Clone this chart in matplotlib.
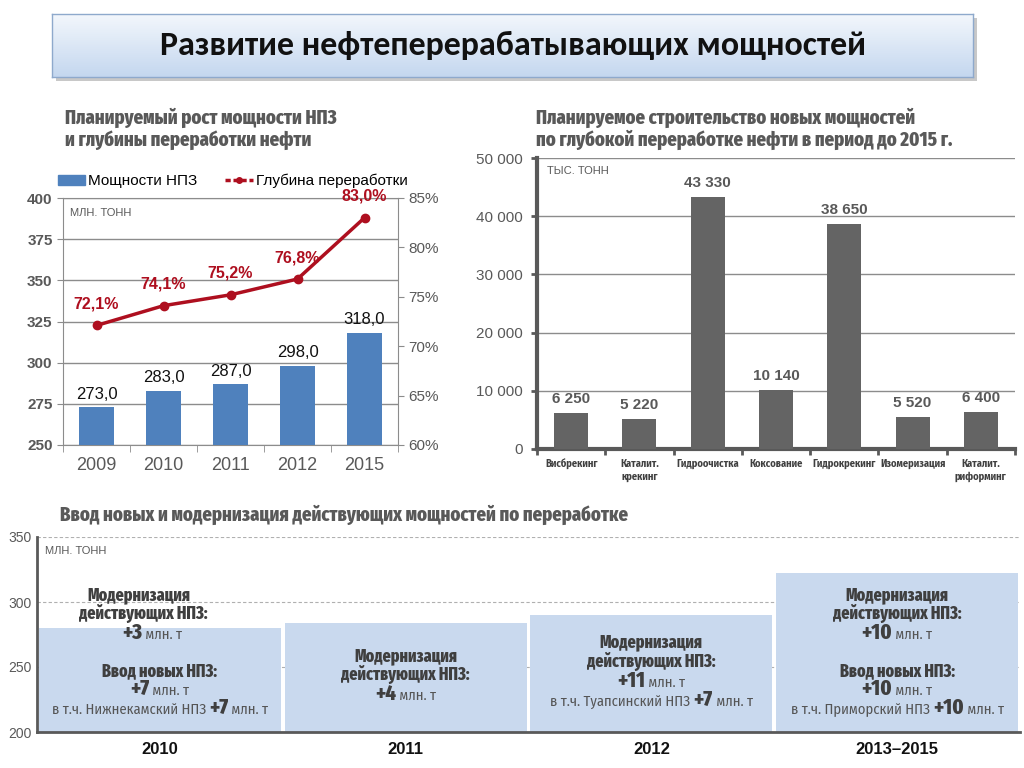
import matplotlib
matplotlib.use('Agg')
import matplotlib.pyplot as plt
import numpy as np
from matplotlib.patches import Rectangle, Patch
from matplotlib.lines import Line2D
from matplotlib.colors import LinearSegmentedColormap
import matplotlib.transforms as mtransforms

# ---------------- data ----------------
years1 = ['2009', '2010', '2011', '2012', '2015']
capacity = [273.0, 283.0, 287.0, 298.0, 318.0]
depth = [72.1, 74.1, 75.2, 76.8, 83.0]

processes = ['Висбрекинг', 'Каталит.\nкрекинг', 'Гидроочистка', 'Коксование',
             'Гидрокрекинг', 'Изомеризация', 'Каталит.\nриформинг']
new_capacity = [6250, 5220, 43330, 10140, 38650, 5520, 6400]

periods = ['2010', '2011', '2012', '2013–2015']
period_level = [280, 284, 290, 322]

HEAD = ['Fira Sans Extra Condensed', 'DejaVu Sans']
COND = ['Fira Sans Condensed', 'DejaVu Sans']
SANS = ['Liberation Sans', 'DejaVu Sans']
TITLE = ['Carlito', 'Liberation Sans', 'DejaVu Sans']
plt.rcParams['font.family'] = SANS

W, H = 1024, 768
fig = plt.figure(figsize=(10.24, 7.68), dpi=100)


def box(x0, y0, x1, y1):
    return [x0 / W, 1 - y1 / H, (x1 - x0) / W, (y1 - y0) / H]


# ---------------- title box ----------------
shadow = Rectangle((56 / W, 1 - 81 / H), 921 / W, 63 / H, transform=fig.transFigure,
                   facecolor='#C8C8C8', edgecolor='none', zorder=-1)
fig.patches.append(shadow)
axT = fig.add_axes(box(52, 14, 973, 77))
cmap = LinearSegmentedColormap.from_list('g', ['#F3F7FC', '#C4D7EF'])
axT.imshow(np.linspace(0, 1, 100).reshape(-1, 1), aspect='auto', cmap=cmap,
           extent=[0, 1, 0, 1], origin='upper')
axT.set_xticks([]); axT.set_yticks([])
for s in axT.spines.values():
    s.set_color('#8EA9CC'); s.set_linewidth(1)
axT.text(0.5, 0.5, 'Развитие нефтеперерабатывающих мощностей', ha='center', va='center',
         fontsize=24.5, fontweight='bold', family=TITLE, color='#111111')

# ---------------- chart 1 ----------------
GRAY = '#595959'
ax1 = fig.add_axes(box(63, 198, 398, 445))
x1 = np.arange(len(years1))
ax1.bar(x1, capacity, width=0.52, color='#4F81BD', zorder=3)
ax1.set_xlim(-0.5, len(years1) - 0.5)
ax1.set_ylim(250, 400)
ax1.set_yticks(np.arange(250, 401, 25))
ax1.set_axisbelow(True)
ax1.grid(axis='y', color='#8C8C8C', lw=1)
for s in ax1.spines.values():
    s.set_color('#8C8C8C')
ax1.set_xticks(x1)
ax1.set_xticklabels(years1)
ax1.set_xticks(np.arange(-0.5, len(years1), 1), minor=True)
ax1.tick_params(axis='x', which='major', length=0, labelsize=13, colors=GRAY, pad=9)
ax1.tick_params(axis='x', which='minor', length=5, color='#8C8C8C', direction='out')
ax1.tick_params(axis='y', length=4, color='#8C8C8C', labelsize=11, labelcolor=GRAY)
for lab in ax1.get_yticklabels():
    lab.set_fontweight('bold')
for xi, v in zip(x1, capacity):
    ax1.annotate(f'{v:.1f}'.replace('.', ','), (xi, v), xytext=(0, 4), textcoords='offset points',
                 ha='center', va='bottom', fontsize=12, color='#111111')
ax1.text(0.02, 0.94, 'МЛН. ТОНН', transform=ax1.transAxes, fontsize=8, color=GRAY, va='center')

ax1b = ax1.twinx()
ax1b.set_ylim(60, 85)
ax1b.set_yticks(np.arange(60, 86, 5))
ax1b.set_yticklabels([f'{v}%' for v in range(60, 86, 5)])
ax1b.tick_params(axis='y', length=4, color='#8C8C8C', labelsize=11, labelcolor=GRAY)
for s in ax1b.spines.values():
    s.set_visible(False)
RED = '#AE0F1F'
ax1b.plot(x1, depth, color=RED, lw=2.5, marker='o', ms=6, zorder=5, clip_on=False)
for xi, v in zip(x1, depth):
    ax1b.annotate(f'{v:.1f}%'.replace('.', ','), (xi, v), xytext=(0, 10), textcoords='offset points',
                  ha='center', va='bottom', fontsize=11.5, fontweight='bold', color=RED)

handles = [Patch(color='#4F81BD'),
           Line2D([], [], color=RED, lw=2.5, ls=(0, (1.5, 0.8)), marker='o', ms=4)]
ax1.legend(handles, ['Мощности НПЗ', 'Глубина переработки'], ncol=2, loc='lower left',
           bbox_to_anchor=(-0.045, 1.0), frameon=False, fontsize=11, handlelength=1.8,
           handleheight=0.6, handletextpad=0.2, columnspacing=1.8, borderaxespad=0.25)

fig.text(65 / W, 1 - 129 / H, 'Планируемый рост мощности НПЗ\nи глубины переработки нефти',
         family=HEAD, fontweight='heavy', fontsize=14.5, color=GRAY, va='center',
         linespacing=1.12, ha='left')

# ---------------- chart 2 ----------------
ax2 = fig.add_axes(box(537, 158, 1015, 449))
x2 = np.arange(len(processes))
ax2.bar(x2, new_capacity, width=0.5, color='#646464', zorder=3)
ax2.set_xlim(-0.5, len(processes) - 0.5)
ax2.set_ylim(0, 50000)
ax2.set_yticks(np.arange(0, 50001, 10000))
ax2.set_yticklabels([f'{v:,}'.replace(',', ' ') for v in range(0, 50001, 10000)])
ax2.set_axisbelow(True)
ax2.grid(axis='y', color='#8C8C8C', lw=1)
ax2.spines['top'].set_visible(False)
ax2.spines['right'].set_visible(False)
for side in ['left', 'bottom']:
    ax2.spines[side].set_color(GRAY); ax2.spines[side].set_linewidth(3)
ax2.set_xticks(x2)
ax2.set_xticklabels(processes, fontsize=7.5, fontweight='bold', color='#404040',
                    linespacing=1.3, family=COND)
ax2.set_xticks(np.arange(-0.5, len(processes), 1), minor=True)
ax2.tick_params(axis='x', which='major', length=0, pad=7)
ax2.tick_params(axis='x', which='minor', length=4, width=2, color=GRAY)
ax2.tick_params(axis='y', length=4, width=2, color=GRAY, labelsize=11, labelcolor=GRAY, pad=6)
for xi, v in zip(x2, new_capacity):
    ax2.annotate(f'{v:,}'.replace(',', ' '), (xi, v), xytext=(0, 5), textcoords='offset points',
                 ha='center', va='bottom', fontsize=11, fontweight='bold', color=GRAY)
ax2.text(0.02, 0.955, 'ТЫС. ТОНН', transform=ax2.transAxes, fontsize=8, color=GRAY, va='center')

fig.text(536 / W, 1 - 129 / H, 'Планируемое строительство новых мощностей\nпо глубокой переработке нефти в период до 2015 г.',
         family=HEAD, fontweight='heavy', fontsize=14.5, color=GRAY, va='center',
         linespacing=1.12, ha='left')

# ---------------- chart 3 ----------------
ax3 = fig.add_axes(box(37, 537, 1020, 732))
x3 = np.arange(len(periods))
ax3.bar(x3, period_level, width=0.985, color='#C9D9EE', zorder=2)
ax3.set_xlim(-0.5, len(periods) - 0.5)
ax3.set_ylim(200, 350)
ax3.set_yticks([200, 250, 300, 350])
ax3.set_axisbelow(True)
ax3.grid(axis='y', color='#B0B0B0', lw=0.8, ls=(0, (3, 2)))
ax3.spines['top'].set_visible(False)
ax3.spines['right'].set_visible(False)
for side in ['left', 'bottom']:
    ax3.spines[side].set_color(GRAY); ax3.spines[side].set_linewidth(2)
ax3.set_xticks(x3)
ax3.set_xticklabels(periods, fontsize=12, fontweight='bold', color='#111111')
ax3.tick_params(axis='x', length=0, pad=7)
ax3.tick_params(axis='y', length=0, labelsize=10, labelcolor=GRAY, pad=4)
ax3.text(0.008, 0.93, 'МЛН. ТОНН', transform=ax3.transAxes, fontsize=8, color=GRAY, va='center')

fig.text(60 / W, 1 - 515 / H, 'Ввод новых и модернизация действующих мощностей по переработке',
         family=HEAD, fontweight='heavy', fontsize=14.5, color=GRAY, va='center', ha='left')

DARK = '#3F3F3F'
ST = {
    'H': dict(family=HEAD, fontweight='heavy', fontsize=12.5, color=DARK),
    'B': dict(family=HEAD, fontweight='heavy', fontsize=16, color=DARK),
    'n': dict(family=COND, fontsize=10.5, color='#555555'),
}


def ypx(y):
    return 200 + (732 - y) / 1.3


mod = lambda n: [[('Модернизация', 'H')], [('действующих НПЗ:', 'H')],
                 [('+' + n, 'B'), (' млн. т', 'n')]]
new = lambda n: [[('Ввод новых НПЗ:', 'H')], [('+' + n, 'B'), (' млн. т', 'n')]]
incl = lambda name, n: [[('в т.ч. ' + name + ' НПЗ ', 'n'), ('+' + n, 'B'), (' млн. т', 'n')]]

# (category index, baseline pixel rows, per-line horizontal shift in px, lines)
box_texts = [
    (0, [600, 619, 639, 676, 695, 714], [-21, -17, -8, 0, 0, 0],
     mod('3') + new('7') + incl('Нижнекамский', '7')),
    (1, [661, 680, 700], [0, 0, 0], mod('4')),
    (2, [647, 667, 687, 706], [0, 0, 0, 0], mod('11') + incl('Туапсинский', '7')),
    (3, [600, 619, 639, 676, 695, 714], [0, 0, 0, 0, 0, 0],
     mod('10') + new('10') + incl('Приморский', '10')),
]

groups = []
for xi, ys, shifts, lines in box_texts:
    for y, sh, parts in zip(ys, shifts, lines):
        ts = []
        for s, st in parts:
            t = ax3.text(xi, ypx(y), s, ha='left', va='baseline', zorder=5, **ST[st])
            ts.append(t)
        groups.append((sh, ts))

fig.canvas.draw()
r = fig.canvas.get_renderer()
for sh, ts in groups:
    widths = [t.get_window_extent(r).width for t in ts]
    start = -sum(widths) / 2 + sh
    for t, w in zip(ts, widths):
        t.set_transform(ax3.transData + mtransforms.ScaledTranslation(start / fig.dpi, 0, fig.dpi_scale_trans))
        start += w

fig.savefig('out.png', dpi=100)
